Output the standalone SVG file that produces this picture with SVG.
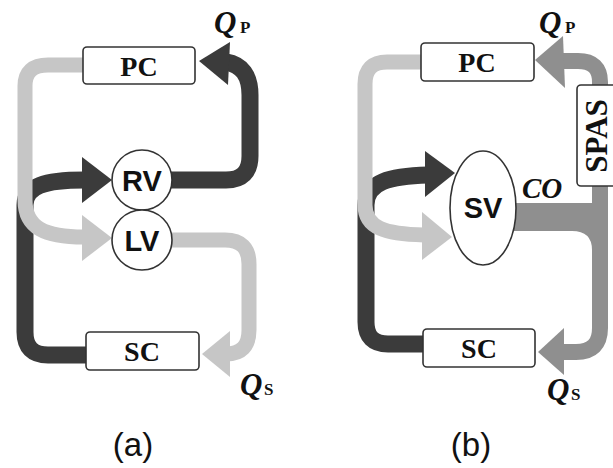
<svg xmlns="http://www.w3.org/2000/svg" width="613" height="468" viewBox="0 0 613 468">
<style>
.box{fill:#fff;stroke:#333;stroke-width:1.6}
.lbl{font-family:"Liberation Serif",serif;font-weight:bold;font-size:28px;fill:#111;text-anchor:middle}
.sans{font-family:"Liberation Sans",Arial,sans-serif;font-weight:bold;font-size:29px;fill:#111;text-anchor:middle}
.q{font-family:"Liberation Serif",serif;font-weight:bold;font-style:italic;font-size:31px;fill:#111}
.sub{font-family:"Liberation Serif",serif;font-weight:bold;font-size:17px;fill:#111}
.cap{font-family:"Liberation Sans",Arial,sans-serif;font-size:33px;fill:#111;text-anchor:middle}
.dark{fill:none;stroke:#3b3b3b;stroke-width:17}
.light{fill:none;stroke:#c6c6c6;stroke-width:15}
.mid{fill:none;stroke:#8f8f8f;stroke-width:16}
.darkf{fill:#3b3b3b}
.lightf{fill:#c6c6c6}
.midf{fill:#8f8f8f}
</style>
<rect width="613" height="468" fill="#fff"/>
<g id="connectors">
  <path class="dark" d="M86,355 H48 Q25,355 25,332 V205 C25,186 45,180 84,180"/>
  <polygon class="darkf" points="112,180 82,157 82,203"/>
  <path class="light" d="M86,65 H48 Q25,65 25,86 V200 C25,228 45,237 84,237"/>
  <polygon class="lightf" points="112,238 82,215 82,261"/>
  <path class="dark" d="M170,180 H226 Q250,180 250,156 V95 Q250,66 226,62"/>
  <polygon class="darkf" points="199,61 230,42 228,85"/>
  <path class="light" d="M170,240 H225 Q249,240 249,264 V330 Q249,354 226,354"/>
  <polygon class="lightf" points="202,354 230,331 230,377"/>
  <path class="dark" d="M425,344 H388 Q366,344 366,322 V205 C366,182 390,176 428,175"/>
  <polygon class="darkf" points="455,173 425,151 425,197"/>
  <path class="light" d="M423,62 H387 Q365,62 365,84 V205 C365,228 385,234 424,235"/>
  <polygon class="lightf" points="452,237 422,212 422,260"/>
  <path class="mid" d="M600,86 V82 Q600,61 578,61 H560"/>
  <polygon class="midf" points="535,60 563,36 565,88"/>
  <path class="mid" d="M600,185 V328 Q600,352 576,352 H562"/>
  <polygon class="midf" points="538,352 564,328 564,375"/>
  <path class="midf" d="M512,203 H608 V250 H592 Q592,231 572,231 H512 Z"/>
</g>
<g id="PC-a"><rect class="box" x="83" y="47" width="112" height="37" rx="4"/><text class="lbl" x="139" y="76">PC</text></g>
<g id="SC-a"><rect class="box" x="86" y="332" width="113" height="38" rx="4"/><text class="lbl" x="142" y="361">SC</text></g>
<g id="RV"><circle class="box" cx="142" cy="180" r="30"/><text class="sans" x="142" y="191">RV</text></g>
<g id="LV"><circle class="box" cx="142" cy="240" r="30"/><text class="sans" x="142" y="251">LV</text></g>
<g id="QP-a"><text class="q" x="214" y="33">Q</text><text class="sub" x="240" y="33">P</text></g>
<g id="QS-a"><text class="q" x="240" y="395">Q</text><text class="sub" x="264" y="395">S</text></g>
<text class="cap" x="133" y="456">(a)</text>
<g id="PC-b"><rect class="box" x="421" y="43" width="113" height="38" rx="4"/><text class="lbl" x="477" y="72">PC</text></g>
<g id="SC-b"><rect class="box" x="423" y="329" width="112" height="38" rx="4"/><text class="lbl" x="479" y="358">SC</text></g>
<g id="SPAS"><rect class="box" x="577" y="85" width="46" height="101" rx="4"/><text class="lbl" transform="translate(607,136) rotate(-90)" x="0" y="0" style="font-size:31px">SPAS</text></g>
<g id="SV"><ellipse class="box" cx="483" cy="208" rx="33" ry="57"/><text class="sans" x="483" y="218">SV</text></g>
<text class="q" x="522" y="198" style="font-size:29px">CO</text>
<g id="QP-b"><text class="q" x="539" y="33">Q</text><text class="sub" x="565" y="33">P</text></g>
<g id="QS-b"><text class="q" x="547" y="400">Q</text><text class="sub" x="571" y="400">S</text></g>
<text class="cap" x="471" y="456">(b)</text>
</svg>
